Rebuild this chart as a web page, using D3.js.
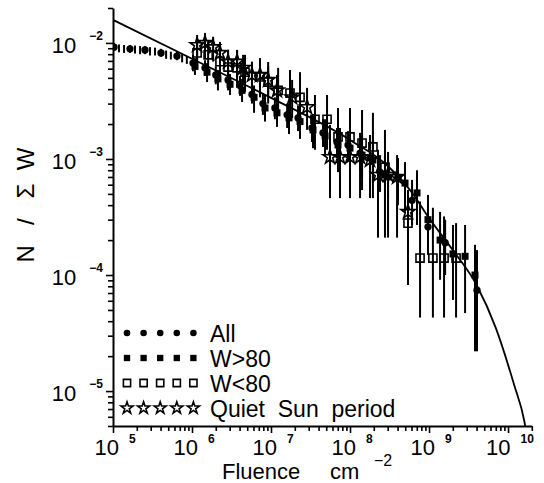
<!DOCTYPE html>
<html><head><meta charset="utf-8">
<script src="https://cdn.jsdelivr.net/npm/d3@7/dist/d3.min.js"></script>
<style>html,body{margin:0;padding:0;background:#fff;} svg{display:block;}</style>
</head><body><svg id="c" width="544" height="483"></svg>
<script>
// ---- data (fluence cm^-2, N / sum W) ----
const allF  = [1.03e5,1.64e5,2.54e5,4.05e5,6.45e5,1.03e6,1.46e6,2.0e6,2.86e6,4.05e6,5.74e6,7.9e6,1.12e7,1.6e7,2.2e7,3.3e7,4.55e7,6.84e7,9.44e7,1.34e8,1.79e8,2.4e8,3.03e8,4.05e8,6.1e8,9.7e8,1.6e9,4.05e9];
const allN  = [9.2e-3,8.9e-3,8.7e-3,8.2e-3,7.7e-3,6.7e-3,6.1e-3,5.3e-3,4.8e-3,4.3e-3,3.6e-3,3.0e-3,2.75e-3,2.4e-3,2.26e-3,1.85e-3,1.68e-3,1.4e-3,1.32e-3,1.12e-3,1.02e-3,7.7e-4,7.0e-4,6.9e-4,4.4e-4,2.6e-4,1.9e-4,7.4e-5];
const allHi = [1.0e-2,9.6e-3,9.4e-3,8.9e-3,8.4e-3,7.9e-3,7.1e-3,6.3e-3,5.7e-3,5.2e-3,4.4e-3,3.7e-3,3.4e-3,3.0e-3,2.9e-3,2.4e-3,2.2e-3,1.85e-3,1.74e-3,1.52e-3,1.4e-3,1.08e-3,9.8e-4,9.8e-4,6.6e-4,4.0e-4,3.0e-4,1.64e-4];
const allLo = [8.5e-3,8.2e-3,8.0e-3,7.6e-3,7.1e-3,5.7e-3,5.2e-3,4.4e-3,3.9e-3,3.5e-3,3.0e-3,2.4e-3,2.2e-3,1.85e-3,1.74e-3,1.4e-3,1.27e-3,1.02e-3,9.4e-4,8.0e-4,7.1e-4,5.2e-4,4.6e-4,4.4e-4,2.7e-4,1.5e-4,1.0e-4,2.2e-5];
// extra low-fluence bins of "All" (error bars only)
const fineF  = [1.19e5,1.38e5,1.9e5,2.2e5,2.94e5,3.4e5,4.7e5,5.4e5,7.5e5,8.6e5];
const fineHi = [9.7e-3,9.6e-3,9.5e-3,9.4e-3,9.2e-3,9.1e-3,8.6e-3,8.4e-3,8.0e-3,7.7e-3];
const fineLo = [8.3e-3,8.2e-3,8.1e-3,8.0e-3,7.8e-3,7.8e-3,7.3e-3,7.2e-3,6.8e-3,6.6e-3];

const wHiF  = [1.09e6,1.55e6,2.13e6,3.03e6,4.3e6,6.1e6,8.4e6,1.19e7,1.69e7,2.33e7,3.4e7,4.83e7,7.05e7,1.0e8,1.42e8,1.95e8,2.77e8,4.05e8,4.97e8,7.05e8,9.7e8,1.38e9,2.01e9,2.86e9,3.82e9];
const wHiN  = [6.3e-3,5.6e-3,4.9e-3,4.4e-3,3.9e-3,3.4e-3,2.75e-3,2.5e-3,2.26e-3,2.1e-3,1.78e-3,1.58e-3,1.32e-3,1.24e-3,1.08e-3,9.8e-4,7.3e-4,6.9e-4,6.2e-4,5.1e-4,3.0e-4,2.0e-4,1.52e-4,1.45e-4,1.0e-4];
const wHiHi = [7.4e-3,6.7e-3,5.85e-3,5.4e-3,4.9e-3,4.3e-3,3.56e-3,3.3e-3,3.0e-3,2.8e-3,2.44e-3,2.2e-3,1.89e-3,1.82e-3,1.61e-3,1.46e-3,1.08e-3,1.02e-3,9.4e-4,8.0e-4,4.9e-4,3.5e-4,2.7e-4,2.7e-4,1.82e-4];
const wHiLo = [5.3e-3,4.6e-3,3.9e-3,3.56e-3,3.1e-3,2.5e-3,2.1e-3,1.89e-3,1.64e-3,1.49e-3,1.24e-3,1.08e-3,8.9e-4,8.0e-4,6.9e-4,6.2e-4,4.4e-4,4.0e-4,3.5e-4,2.7e-4,1.49e-4,9.1e-5,6.1e-5,4.7e-5,2.2e-5];

const wLoF  = [1.16e6,1.6e6,2.26e6,2.86e6,3.72e6,4.69e6,7.26e6,9.2e6,1.23e7,1.74e7,2.33e7,3.6e7,5.12e7,7.05e7,1.0e8,1.42e8,1.95e8,2.77e8,5.42e8,7.7e8,1.12e9,1.55e9,2.2e9];
const wLoN  = [8.2e-3,7.9e-3,6.9e-3,6.2e-3,6.1e-3,5.6e-3,5.1e-3,4.6e-3,3.9e-3,3.7e-3,3.4e-3,2.2e-3,2.2e-3,1.55e-3,1.55e-3,1.37e-3,1.27e-3,8.5e-4,2.8e-4,1.4e-4,1.4e-4,1.4e-4,1.4e-4];
const wLoHi = [1.1e-2,1.06e-2,9.6e-3,8.7e-3,8.7e-3,7.9e-3,7.4e-3,6.85e-3,6.1e-3,5.85e-3,5.6e-3,3.56e-3,3.56e-3,2.75e-3,2.75e-3,2.64e-3,2.5e-3,1.78e-3,4.4e-4,4.3e-4,3.8e-4,3.2e-4,2.8e-4];
const wLoLo = [5.85e-3,5.6e-3,4.8e-3,4.35e-3,4.1e-3,3.8e-3,3.4e-3,3.0e-3,2.4e-3,2.2e-3,1.97e-3,1.2e-3,1.2e-3,7.7e-4,7.7e-4,5.4e-4,4.6e-4,2.1e-4,8.2e-5,4.3e-5,4.3e-5,4.3e-5,4.3e-5];

const qF  = [1.16e6,1.46e6,1.85e6,2.26e6,2.86e6,3.72e6,4.43e6,5.74e6,7.26e6,9.2e6,1.19e7,1.85e7,2.86e7,5.58e7,7.47e7,1.0e8,1.34e8,1.79e8,2.26e8,3.03e8,3.94e8,5.42e8];
const qN  = [9.6e-3,1.0e-2,9.2e-3,8.2e-3,6.9e-3,6.9e-3,6.1e-3,5.3e-3,5.3e-3,4.8e-3,3.9e-3,3.4e-3,2.8e-3,1.04e-3,1.04e-3,1.04e-3,1.04e-3,9.8e-4,7.3e-4,7.3e-4,7.0e-4,3.5e-4];
const qHi = [1.17e-2,1.22e-2,1.13e-2,1.02e-2,8.7e-3,8.7e-3,7.9e-3,6.9e-3,6.9e-3,6.3e-3,5.3e-3,4.8e-3,4.1e-3,1.97e-3,1.85e-3,1.78e-3,1.68e-3,1.61e-3,1.2e-3,1.15e-3,1.08e-3,5.4e-4];
const qLo = [7.1e-3,7.4e-3,6.9e-3,6.1e-3,5.0e-3,5.0e-3,4.35e-3,3.8e-3,3.8e-3,3.4e-3,2.64e-3,2.26e-3,1.78e-3,4.6e-4,4.6e-4,4.6e-4,4.6e-4,4.6e-4,2.1e-4,2.1e-4,2.1e-4,8.2e-5];

// fitted curve
const fitF = [1e5,1e6,1e7,1e8,3e8,6e8,1e9,2e9,4e9,7e9,1.2e10,1.6e10,1.8e10];
const fitN = [1.58e-2,7.3e-3,3.36e-3,1.46e-3,8.7e-4,5.2e-4,3.1e-4,1.64e-4,8.2e-5,3.5e-5,1.12e-5,5.6e-6,3.5e-6];

const xTickExp = [5,6,7,8,9,10];
const yTickExp = [-2,-3,-4,-5];
const legendLabels = ["All","W>80","W<80","Quiet  Sun  period"];

// ---- drawing ----
const FONT = "'Liberation Sans', Arial, Helvetica, sans-serif";
const svg = d3.select("#c");
const x = d3.scaleLog().domain([1e5, 2e10]).range([113, 531.8]);
const y = d3.scaleLog().domain([5e-6, 2e-2]).range([426, 8]);

svg.append("defs").append("clipPath").attr("id","clip")
  .append("rect").attr("x",113).attr("y",8).attr("width",419).attr("height",418);

function tickVals(lo, hi){
  const v=[];
  for(let e=Math.floor(Math.log10(lo)); e<=Math.ceil(Math.log10(hi)); e++)
    for(let m=1;m<=9;m++){const t=m*Math.pow(10,e); if(t>=lo*0.999 && t<=hi*1.001) v.push(t);}
  return v;
}
const isMajor = t => Math.abs(Math.log10(t) - Math.round(Math.log10(t))) < 1e-9;

const gx = svg.append("g").attr("transform","translate(0,426)")
  .call(d3.axisBottom(x).tickValues(tickVals(1e5,2e10)).tickSize(5).tickSizeOuter(0).tickFormat(""));
gx.selectAll(".tick line").attr("y2", d => isMajor(d) ? 7 : 5).attr("stroke-width",1.6);
gx.select(".domain").attr("stroke-width",2);

const gy = svg.append("g").attr("transform","translate(113,0)")
  .call(d3.axisLeft(y).tickValues(tickVals(5e-6,2e-2)).tickSize(5).tickSizeOuter(0).tickFormat(""));
gy.selectAll(".tick line").attr("x2", d => isMajor(d) ? -7 : -5).attr("stroke-width",1.6);
gy.select(".domain").attr("stroke-width",2);

// tick labels
xTickExp.forEach(e => {
  const t = svg.append("text").attr("x", x(Math.pow(10,e)) + 2).attr("y", 455)
    .attr("text-anchor","middle").attr("font-family",FONT).attr("font-size",22).text("10");
  t.append("tspan").attr("dx",10).attr("dy",-12).attr("font-size",12).attr("font-weight","bold").text(String(e));
});
yTickExp.forEach(e => {
  const t = svg.append("text").attr("x", 103).attr("y", y(Math.pow(10,e)) + 10)
    .attr("text-anchor","end").attr("font-family",FONT).attr("font-size",22).text("10");
  t.append("tspan").attr("dx",13).attr("dy",-13).attr("font-size",12).attr("font-weight","bold").text("\u2212" + Math.abs(e));
});

// axis titles
svg.append("text").attr("x",222).attr("y",479).attr("font-family",FONT).attr("font-size",22).text("Fluence");
svg.append("text").attr("x",330).attr("y",479).attr("font-family",FONT).attr("font-size",22).text("cm");
svg.append("text").attr("x",374).attr("y",466).attr("font-family",FONT).attr("font-size",16).text("\u22122");
svg.append("text").attr("transform","translate(34,205) rotate(-90)").attr("text-anchor","middle")
  .attr("font-family",FONT).attr("font-size",24).attr("xml:space","preserve").text("N   /   \u03A3  W");

// plot
const plot = svg.append("g").attr("clip-path","url(#clip)");

function errBars(F, lo, hi){
  plot.append("g").selectAll("line").data(F).join("line")
    .attr("x1", d => x(d)).attr("x2", d => x(d))
    .attr("y1", (d,i) => y(lo[i])).attr("y2", (d,i) => y(hi[i]))
    .attr("stroke","#000").attr("stroke-width",2);
}
errBars(fineF, fineLo, fineHi);
errBars(allF, allLo, allHi);
errBars(wHiF, wHiLo, wHiHi);
errBars(wLoF, wLoLo, wLoHi);
errBars(qF, qLo, qHi);

const sym = {
  circle: d3.symbol().type(d3.symbolCircle).size(42),
  fsquare: d3.symbol().type(d3.symbolSquare).size(49),
  osquare: d3.symbol().type(d3.symbolSquare).size(66),
  star: d3.symbol().type(d3.symbolStar).size(62)
};
const style = {
  circle:  {fill:"#000", stroke:"none", sw:0},
  fsquare: {fill:"#000", stroke:"none", sw:0},
  osquare: {fill:"none", stroke:"#000", sw:1.6},
  star:    {fill:"none", stroke:"#000", sw:1.6}
};
function marks(F, N, kind){
  plot.append("g").selectAll("path").data(F).join("path")
    .attr("transform",(d,i)=>`translate(${x(d)},${y(N[i])})`)
    .attr("d", sym[kind]()).attr("fill",style[kind].fill)
    .attr("stroke",style[kind].stroke).attr("stroke-width",style[kind].sw);
}
marks(allF, allN, "circle");
marks(wHiF, wHiN, "fsquare");
marks(wLoF, wLoN, "osquare");
marks(qF, qN, "star");

// fit curve
plot.append("path").datum(fitF)
  .attr("d", d3.line().x(d=>x(d)).y((d,i)=>y(fitN[i])).curve(d3.curveMonotoneX))
  .attr("fill","none").attr("stroke","#000").attr("stroke-width",1.8);

// legend
const kinds = ["circle","fsquare","osquare","star"];
const legSym = {
  circle: d3.symbol().type(d3.symbolCircle).size(34),
  fsquare: d3.symbol().type(d3.symbolSquare).size(40),
  osquare: d3.symbol().type(d3.symbolSquare).size(52),
  star: d3.symbol().type(d3.symbolStar).size(44)
};
const leg = svg.append("g");
legendLabels.forEach((lab,r) => {
  const cy = 333 + r*25;
  for(let k=0;k<5;k++){
    leg.append("path").attr("transform",`translate(${127 + k*16.6},${cy})`)
      .attr("d", legSym[kinds[r]]()).attr("fill",style[kinds[r]].fill)
      .attr("stroke",style[kinds[r]].stroke).attr("stroke-width",style[kinds[r]].sw);
  }
  leg.append("text").attr("x",210).attr("y",cy+9).attr("font-family",FONT).attr("font-size",23)
    .attr("xml:space","preserve").text(lab);
});
</script>
</body></html>
